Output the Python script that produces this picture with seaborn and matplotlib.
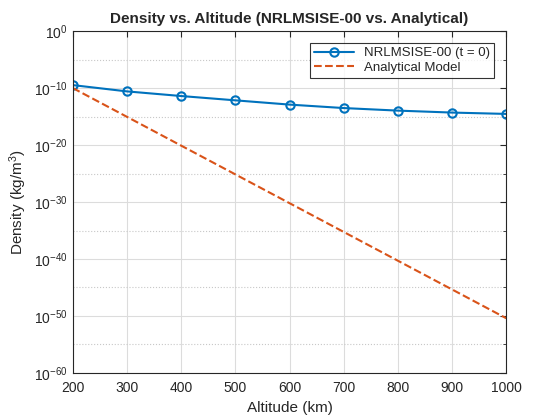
import numpy as np
import pandas as pd
import seaborn as sns
import matplotlib
matplotlib.use("Agg")
import matplotlib.pyplot as plt
from matplotlib.ticker import FixedLocator, NullFormatter

# values
altitude = [200, 300, 400, 500, 600, 700, 800, 900, 1000]
rho_nrlmsise = [3.3e-10, 2.6e-11, 4.0e-12, 7.0e-13, 1.25e-13, 3.1e-14, 1.1e-14, 5.0e-15, 2.9e-15]
rho_analytic = [1.0e-10, 8.9e-16, 7.9e-21, 7.1e-26, 6.3e-31, 5.6e-36, 5.0e-41, 4.5e-46, 4.0e-51]

df = pd.DataFrame({"alt": altitude, "nrl": rho_nrlmsise, "ana": rho_analytic})

sns.set_style("white")
plt.rcParams["font.family"] = ["Liberation Sans", "DejaVu Sans"]
plt.rcParams["mathtext.fontset"] = "custom"
plt.rcParams["mathtext.rm"] = "Liberation Sans"
plt.rcParams["mathtext.it"] = "Liberation Sans:italic"

fig = plt.figure(figsize=(5.6, 4.2), dpi=100)
ax = fig.add_axes([0.13, 0.112, 0.774, 0.814])

sns.lineplot(data=df, x="alt", y="nrl", ax=ax, color="#0072BD", lw=1.5,
             marker="o", markersize=6, markerfacecolor="none",
             markeredgecolor="#0072BD", markeredgewidth=1.5,
             label="NRLMSISE-00 (t = 0)")
sns.lineplot(data=df, x="alt", y="ana", ax=ax, color="#D95319", lw=1.5,
             linestyle="--", dashes=(4.5, 3), label="Analytical Model")

ax.set_yscale("log")
ax.set_xlim(200, 1000)
ax.set_ylim(1e-60, 1e0)
ax.set_xticks(range(200, 1001, 100))
ax.yaxis.set_major_locator(FixedLocator([10.0**k for k in range(-60, 1, 10)]))
ax.yaxis.set_minor_locator(FixedLocator([10.0**k for k in range(-55, 0, 10)]))
ax.yaxis.set_minor_formatter(NullFormatter())
ax.set_yticklabels([r"$10^{%d}$" % k for k in range(-60, 1, 10)])

ax.grid(True, which="major", color="#dcdcdc", lw=0.8)
ax.grid(True, which="minor", color="#c8c8c8", lw=0.8, linestyle=":")
ax.tick_params(which="both", direction="in", length=4, labelsize=10, color="#262626",
               top=True, right=True, labelcolor="#262626")
ax.tick_params(axis="x", pad=6)
ax.tick_params(which="minor", length=2)
for s in ax.spines.values():
    s.set_color("#262626")
    s.set_linewidth(0.8)

ax.set_xlabel("Altitude (km)", fontsize=11, color="#262626")
ax.set_ylabel(r"Density (kg/m$^3$)", fontsize=11, color="#262626")
ax.set_title("Density vs. Altitude (NRLMSISE-00 vs. Analytical)", fontsize=11,
             fontweight="bold")

leg = ax.legend(loc="upper right", fontsize=9.5, frameon=True, fancybox=False,
                edgecolor="black", borderaxespad=0.9, handlelength=3.0,
                borderpad=0.3, labelspacing=0.2)
leg.get_frame().set_linewidth(0.8)

fig.savefig("out.png", dpi=100)
